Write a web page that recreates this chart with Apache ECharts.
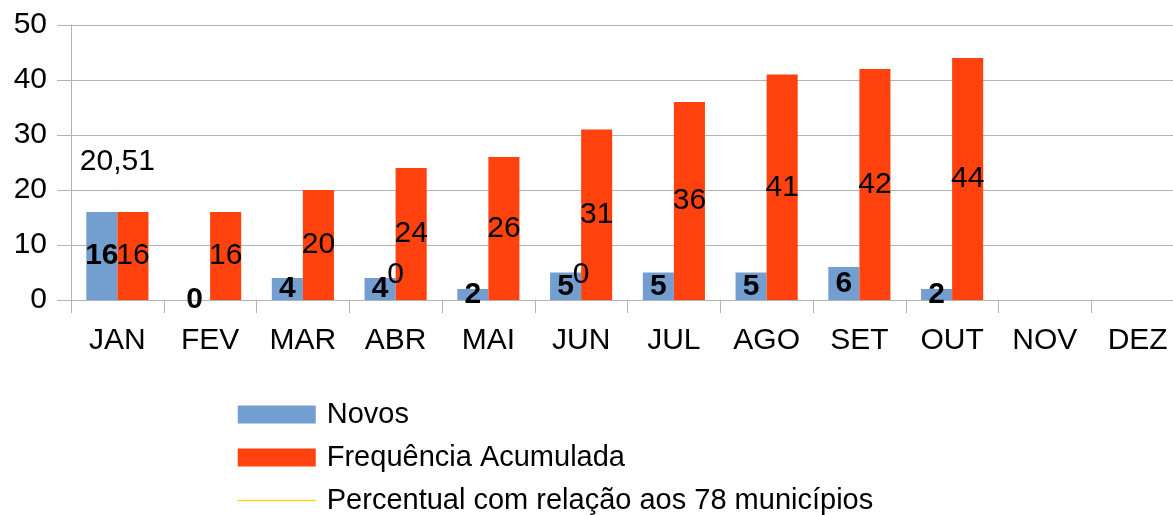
<!DOCTYPE html>
<html>
<head>
<meta charset="utf-8">
<script src="https://cdn.jsdelivr.net/npm/echarts@6/dist/echarts.min.js"></script>
<style>html,body{margin:0;padding:0;background:#fff}#c{width:1173px;height:515px}</style>
</head>
<body>
<div id="c"></div>
<script>
const categories = ['JAN','FEV','MAR','ABR','MAI','JUN','JUL','AGO','SET','OUT','NOV','DEZ'];
const novos = [16, 0, 4, 4, 2, 5, 5, 5, 6, 2, null, null];
const acumulada = [16, 16, 20, 24, 26, 31, 36, 41, 42, 44, null, null];
const percentual = [20.51, null, null, 0, null, 0, null, null, null, null, null, null];
const seriesNames = ['Novos', 'Frequência Acumulada', 'Percentual com relação aos 78 municípios'];
const yTicks = {min: 0, max: 50, interval: 10};

const FONT = 'Liberation Sans';
const chart = echarts.init(document.getElementById('c'), null, {renderer: 'canvas'});
const fmt = p => String(p.value).replace('.', ',');
chart.setOption({
  animation: false,
  textStyle: {fontFamily: FONT},
  grid: {left: 71, top: 25, width: 1113, bottom: 215, containLabel: false, outerBoundsMode: 'none'},
  legend: {
    orient: 'vertical', left: 237, top: 400, height: 125, padding: 0,
    itemWidth: 78, itemHeight: 18, itemGap: 14,
    textStyle: {fontFamily: FONT, fontSize: 29, color: '#000', padding: [0, 0, 0, 6]},
    data: [
      {name: seriesNames[0], icon: 'rect'},
      {name: seriesNames[1], icon: 'rect'},
      {name: seriesNames[2], itemStyle: {opacity: 0, color: 'rgba(0,0,0,0)', borderWidth: 0}, lineStyle: {width: 1.5}}
    ]
  },
  xAxis: {
    type: 'category', data: categories, boundaryGap: true,
    axisLine: {lineStyle: {color: '#b3b3b3', width: 1}},
    axisTick: {show: true, length: 13, lineStyle: {color: '#b3b3b3'}},
    axisLabel: {fontFamily: FONT, fontSize: 30, color: '#000', margin: 26, interval: 0}
  },
  yAxis: {
    type: 'value', min: yTicks.min, max: yTicks.max, interval: yTicks.interval,
    axisLine: {show: true, lineStyle: {color: '#b3b3b3'}},
    axisTick: {show: true, length: 14, lineStyle: {color: '#b3b3b3'}},
    splitLine: {lineStyle: {color: '#b3b3b3'}},
    axisLabel: {fontFamily: FONT, fontSize: 30, color: '#000', margin: 24}
  },
  series: [
    {
      name: seriesNames[0], type: 'bar', data: novos, barGap: 0, barCategoryGap: '33%',
      itemStyle: {color: '#729fcf'},
      label: {show: true, position: 'inside', color: '#000', fontFamily: FONT, fontSize: 30, fontWeight: 'bold', formatter: fmt}
    },
    {
      name: seriesNames[1], type: 'bar', data: acumulada, barGap: 0, barCategoryGap: '33%',
      itemStyle: {color: '#ff420e'},
      label: {show: true, position: 'inside', color: '#000', fontFamily: FONT, fontSize: 30, formatter: fmt}
    },
    {
      name: seriesNames[2], type: 'line', data: percentual, connectNulls: false,
      symbol: 'circle', symbolSize: 1, showSymbol: true,
      itemStyle: {color: '#ffd320'},
      lineStyle: {color: '#ffd320', width: 2},
      label: {show: true, position: 'top', distance: 10, color: '#000', fontFamily: FONT, fontSize: 30, formatter: fmt}
    }
  ]
});
</script>
</body>
</html>
